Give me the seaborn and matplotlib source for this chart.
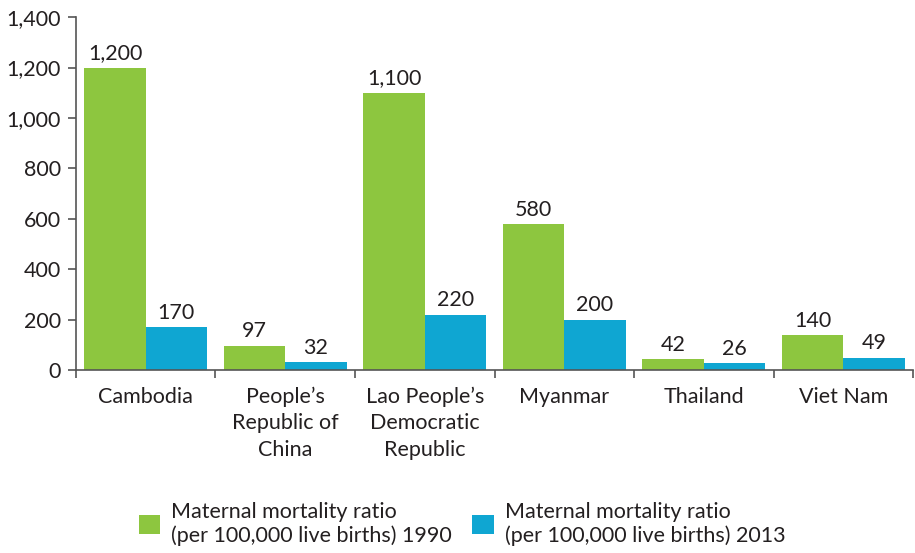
""" Maternal mortality ratio, 1990 vs 2013 """

import numpy as np
import pandas as pd
import matplotlib.pyplot as plt
import seaborn as sns
from matplotlib.patches import Patch

countries = ["Cambodia", "People\u2019s\nRepublic of\nChina", "Lao People\u2019s\nDemocratic\nRepublic",
             "Myanmar", "Thailand", "Viet Nam"]
mmr_1990 = [1200, 97, 1100, 580, 42, 140]
mmr_2013 = [170, 32, 220, 200, 26, 49]
series = ["Maternal mortality ratio\n(per 100,000 live births) 1990",
          "Maternal mortality ratio\n(per 100,000 live births) 2013"]
colors = ["#8DC63F", "#0FA6D2"]


def main():
    """ Main Function """
    df = pd.DataFrame({
        "country": countries * 2,
        "value": mmr_1990 + mmr_2013,
        "series": [series[0]] * len(countries) + [series[1]] * len(countries),
    })

    sns.set_style("ticks")
    plt.rcParams["font.family"] = ["Lato", "DejaVu Sans"]
    text_color = "#231F20"
    fs = 15.5

    fig = plt.figure(figsize=(9.15, 5.53), dpi=100)
    ax = fig.add_axes([0.083, 0.331, 0.915, 0.638])
    sns.barplot(data=df, x="country", y="value", hue="series", palette=colors,
                width=0.88, saturation=1, linewidth=0, ax=ax, legend=False)

    for cont in ax.containers:
        ax.bar_label(cont, labels=["{:,}".format(int(v)) for v in cont.datavalues],
                     padding=3, fontsize=fs, color=text_color)

    ax.set_ylim(0, 1400)
    ax.set_yticks(np.arange(0, 1401, 200))
    ax.set_yticklabels(["{:,}".format(v) for v in range(0, 1401, 200)])
    ax.set_xlim(-0.5, len(countries) - 0.5)
    ax.set_xticks(range(len(countries)))
    ax.set_xticklabels(countries, linespacing=1.4)
    ax.set_xticks(np.arange(-0.5, len(countries), 1), minor=True)
    ax.tick_params(axis="x", which="major", length=0, pad=12, labelsize=fs, colors=text_color)
    ax.tick_params(axis="x", which="minor", length=6, width=1.2, color="#555555")
    ax.tick_params(axis="y", length=6, width=1.2, color="#555555", labelsize=fs,
                   labelcolor=text_color, pad=5)
    ax.set_xlabel("")
    ax.set_ylabel("")
    for side in ["top", "right"]:
        ax.spines[side].set_visible(False)
    for side in ["left", "bottom"]:
        ax.spines[side].set_color("#555555")
        ax.spines[side].set_linewidth(1.2)

    handles = [Patch(facecolor=c, edgecolor="none") for c in colors]
    fig.legend(handles, series, loc="lower center", bbox_to_anchor=(0.505, -0.022), ncol=2,
               frameon=False, fontsize=fs, handlelength=1.0, handleheight=1.0,
               columnspacing=0.95, handletextpad=0.5, labelcolor=text_color)

    fig.savefig("out.png", dpi=100)


if __name__ == "__main__":
    main()
